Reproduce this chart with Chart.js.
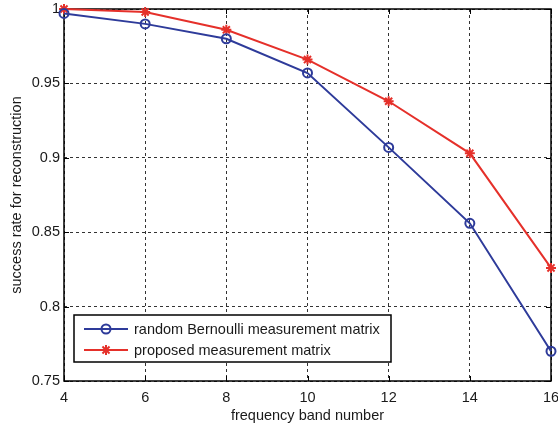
<!DOCTYPE html>
<html>
<head>
<meta charset="utf-8">
<script src="https://cdn.jsdelivr.net/npm/chart.js@4.4.1/dist/chart.umd.min.js"></script>
<style>
    html, body { margin: 0; padding: 0; background: #ffffff; }
    #wrap { width: 558px; height: 426px; }
</style>
</head>
<body>
<div id="wrap"><canvas id="rateChart" width="558" height="426"></canvas></div>
<script>
/* ==========================================
   Success rate vs frequency band number
   ========================================== */

// ข้อมูลจากกราฟ
const bands = [4, 6, 8, 10, 12, 14, 16];
const bernoulliRate = [0.997, 0.990, 0.980, 0.957, 0.907, 0.856, 0.770];
const proposedRate = [1.000, 0.998, 0.986, 0.966, 0.938, 0.903, 0.826];
const seriesNames = ["random Bernoulli measurement matrix", "proposed measurement matrix"];

const blue = "#2e3b9a";
const red = "#e5302a";
const textColor = "#1a1a1a";
const font = "Liberation Sans, Arial, sans-serif";
const fontSize = 14.5;

function toPoints(values) {
    return bands.map((b, i) => ({ x: b, y: values[i] }));
}

// กรอบ + tick ด้านใน แบบ MATLAB
const boxPlugin = {
    id: "boxPlugin",
    beforeDatasetsDraw(chart) {
        const { ctx, chartArea: a, scales } = chart;
        ctx.save();
        ctx.strokeStyle = "#000";
        ctx.lineWidth = 1;
        ctx.beginPath();
        scales.x.ticks.forEach(t => {
            const px = Math.round(scales.x.getPixelForValue(t.value)) + 0.5;
            ctx.moveTo(px, a.bottom); ctx.lineTo(px, a.bottom - 5);
            ctx.moveTo(px, a.top); ctx.lineTo(px, a.top + 5);
        });
        scales.y.ticks.forEach(t => {
            const py = Math.round(scales.y.getPixelForValue(t.value)) + 0.5;
            ctx.moveTo(a.left, py); ctx.lineTo(a.left + 5, py);
            ctx.moveTo(a.right, py); ctx.lineTo(a.right - 5, py);
        });
        ctx.stroke();
        ctx.lineWidth = 1.5;
        ctx.strokeRect(a.left, a.top, a.right - a.left, a.bottom - a.top);
        ctx.restore();
    }
};

// legend ในกรอบ มุมล่างซ้าย
const legendPlugin = {
    id: "boxLegend",
    afterDraw(chart) {
        const { ctx } = chart;
        const x0 = 74, y0 = 315, w = 317, h = 47;
        ctx.save();
        ctx.fillStyle = "#fff";
        ctx.fillRect(x0, y0, w, h);
        ctx.strokeStyle = "#000";
        ctx.lineWidth = 1.5;
        ctx.strokeRect(x0, y0, w, h);

        chart.data.datasets.forEach((ds, i) => {
            const y = y0 + 14 + i * 21;
            ctx.strokeStyle = ds.borderColor;
            ctx.lineWidth = 2;
            ctx.beginPath();
            ctx.moveTo(x0 + 10, y);
            ctx.lineTo(x0 + 54, y);
            ctx.stroke();
            ctx.fillStyle = ds.pointBackgroundColor;
            ctx.strokeStyle = ds.pointBorderColor;
            ctx.lineWidth = ds.pointBorderWidth;
            Chart.helpers.drawPoint(ctx, {
                pointStyle: ds.pointStyle,
                radius: ds.pointRadius,
                borderWidth: ds.pointBorderWidth
            }, x0 + 32, y);
            ctx.fillStyle = textColor;
            ctx.font = fontSize + "px " + font;
            ctx.textBaseline = "middle";
            ctx.fillText(ds.label, x0 + 60, y + 1);
        });
        ctx.restore();
    }
};

const ctx = document.getElementById("rateChart");

new Chart(ctx, {
    type: "line",
    data: {
        datasets: [
            {
                label: seriesNames[0],
                data: toPoints(bernoulliRate),
                borderColor: blue,
                backgroundColor: "rgba(0,0,0,0)",
                borderWidth: 2,
                pointStyle: "circle",
                pointRadius: 4.5,
                pointBorderWidth: 2,
                pointBackgroundColor: "rgba(0,0,0,0)",
                pointBorderColor: blue,
                tension: 0,
                clip: false
            },
            {
                label: seriesNames[1],
                data: toPoints(proposedRate),
                borderColor: red,
                backgroundColor: red,
                borderWidth: 2,
                pointStyle: "star",
                pointRadius: 5,
                pointBorderWidth: 2,
                pointBackgroundColor: red,
                pointBorderColor: red,
                tension: 0,
                clip: false
            }
        ]
    },
    options: {
        responsive: false,
        animation: false,
        events: [],
        layout: { padding: { top: 9, right: 6, left: 0, bottom: 0 } },
        plugins: {
            legend: { display: false },
            tooltip: { enabled: false }
        },
        scales: {
            x: {
                type: "linear",
                min: 4,
                max: 16,
                afterFit(scale) {
                    scale.height = 45;
                    scale.paddingLeft = 0;
                    scale.paddingRight = 0;
                },
                ticks: {
                    stepSize: 2,
                    color: textColor,
                    font: { family: font, size: fontSize },
                    padding: 8,
                    maxRotation: 0
                },
                grid: {
                    color: "#333",
                    lineWidth: 1,
                    drawTicks: false
                },
                border: { display: false, dash: [3, 3] },
                title: {
                    display: true,
                    text: "frequency band number",
                    color: textColor,
                    font: { family: font, size: fontSize },
                    padding: { top: 0, bottom: 1 }
                }
            },
            y: {
                min: 0.75,
                max: 1,
                afterFit(scale) {
                    scale.width = 64;
                    scale.paddingTop = 0;
                    scale.paddingBottom = 0;
                },
                ticks: {
                    stepSize: 0.05,
                    color: textColor,
                    font: { family: font, size: fontSize },
                    padding: 4,
                    callback: v => String(Number(v.toFixed(2)))
                },
                grid: {
                    color: "#333",
                    lineWidth: 1,
                    drawTicks: false
                },
                border: { display: false, dash: [3, 3] },
                title: {
                    display: true,
                    text: "success rate for reconstruction",
                    color: textColor,
                    font: { family: font, size: fontSize },
                    padding: { top: 8, bottom: 0 }
                }
            }
        }
    },
    plugins: [boxPlugin, legendPlugin]
});
</script>
</body>
</html>
